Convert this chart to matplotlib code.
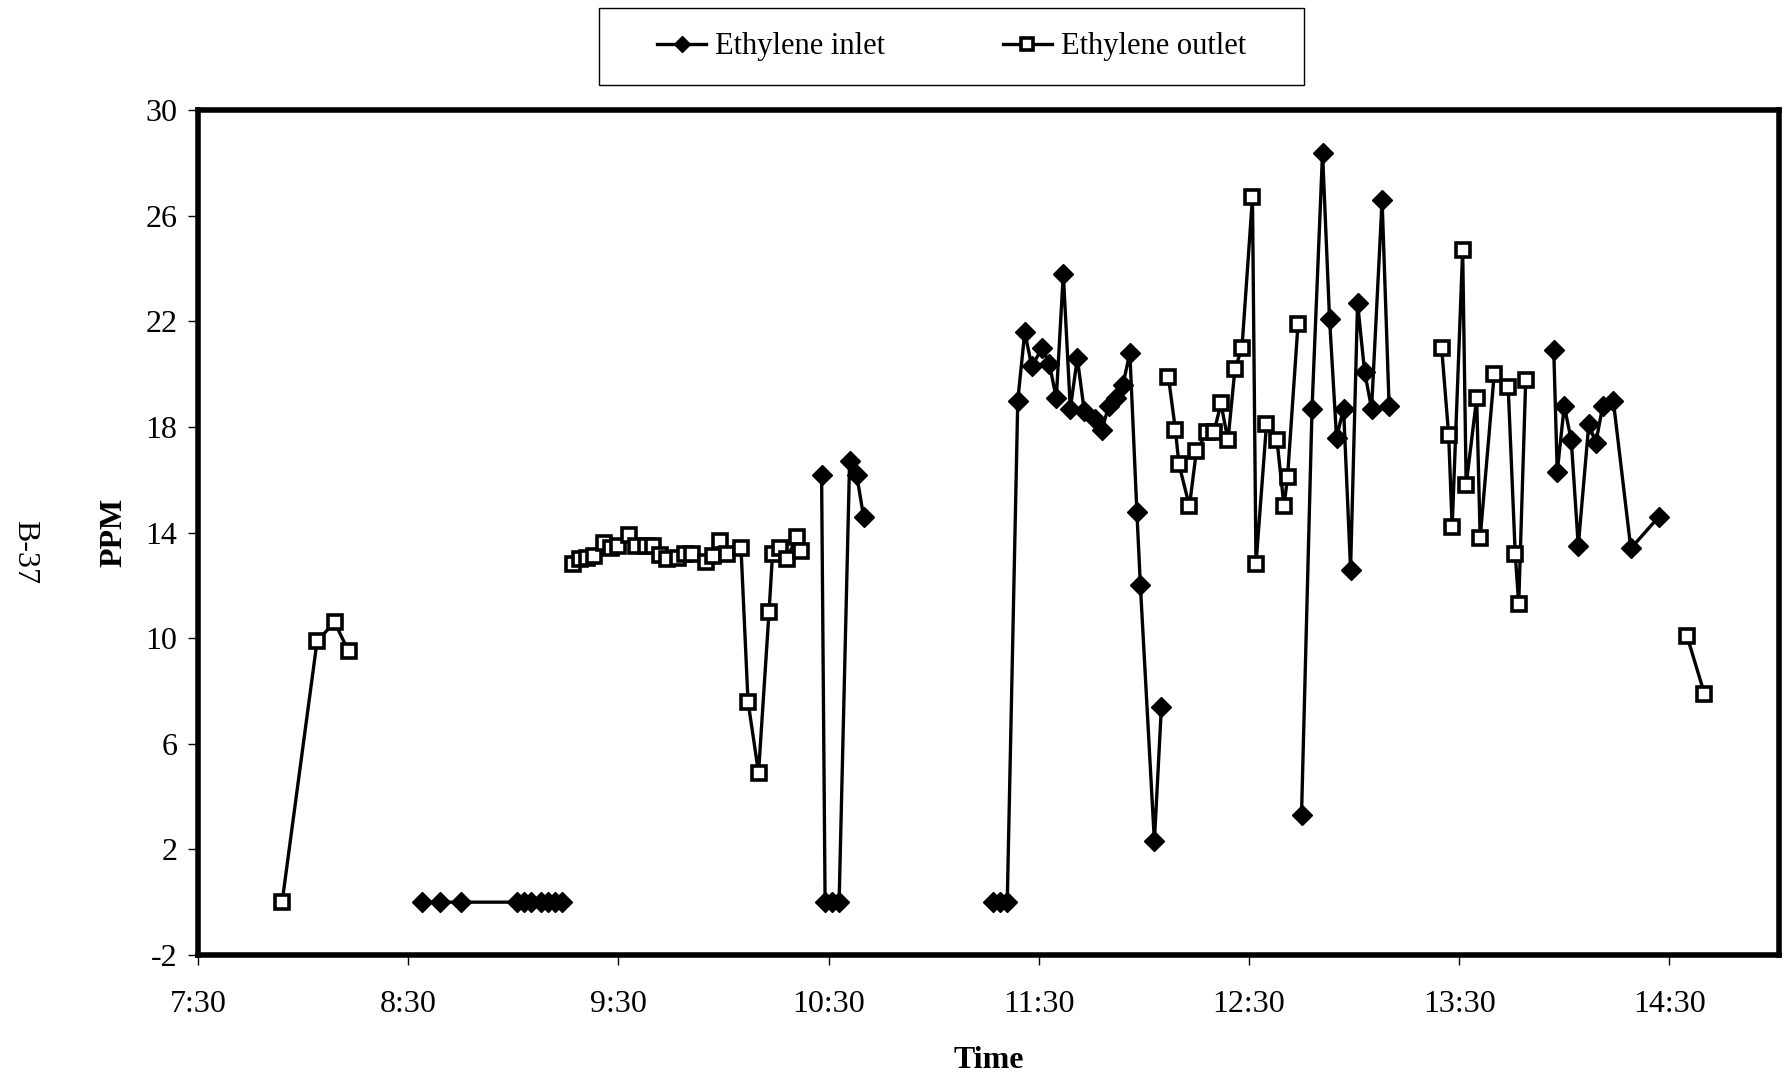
import numpy as np
import matplotlib
matplotlib.use("Agg")
import matplotlib.pyplot as plt
import matplotlib.ticker as ticker
from matplotlib.patches import Rectangle

plt.rcParams['font.family'] = ['Liberation Serif', 'DejaVu Serif']
plt.rcParams['axes.unicode_minus'] = False

# readings; None marks a gap in the record
inlet_time = ['8:34', '8:39', '8:45', '9:01', '9:03', '9:05', '9:08', '9:10', '9:12', '9:14',
              None,
              '10:28', '10:29', '10:31', '10:33', '10:36', '10:38', '10:40',
              None,
              '11:17', '11:19', '11:21', '11:24', '11:26', '11:28', '11:31', '11:33', '11:35',
              '11:37', '11:39', '11:41', '11:43', '11:46', '11:48', '11:50', '11:52', '11:54',
              '11:56', '11:58', '11:59', '12:03', '12:05',
              None,
              '12:45', '12:48', '12:51', '12:53', '12:55', '12:57', '12:59', '13:01', '13:03',
              '13:05', '13:08', '13:10',
              None,
              '13:57', '13:58', '14:00', '14:02', '14:04', '14:07', '14:09', '14:11', '14:14',
              '14:19', '14:27']
inlet_ppm = [0, 0, 0, 0, 0, 0, 0, 0, 0, 0,
             None,
             16.2, 0, 0, 0, 16.7, 16.2, 14.6,
             None,
             0, 0, 0, 19.0, 21.6, 20.3, 21.0, 20.4, 19.1,
             23.8, 18.7, 20.6, 18.6, 18.3, 17.9, 18.8, 19.1, 19.6,
             20.8, 14.8, 12.0, 2.3, 7.4,
             None,
             3.3, 18.7, 28.4, 22.1, 17.6, 18.7, 12.6, 22.7, 20.1,
             18.7, 26.6, 18.8,
             None,
             20.9, 16.3, 18.8, 17.5, 13.5, 18.1, 17.4, 18.8, 19.0,
             13.4, 14.6]

outlet_time = ['7:54', '8:04', '8:09', '8:13',
               None,
               '9:17', '9:19', '9:21', '9:23', '9:26', '9:28', '9:30', '9:33', '9:35', '9:38',
               '9:40', '9:42', '9:44', '9:47', '9:49', '9:51', '9:55', '9:57', '9:59', '10:01',
               '10:05', '10:07', '10:10', '10:13', '10:14', '10:16', '10:18', '10:21', '10:22',
               None,
               '12:07', '12:09', '12:10', '12:13', '12:15', '12:18', '12:20', '12:22', '12:24',
               '12:26', '12:28', '12:31', '12:32', '12:35', '12:38', '12:40', '12:41', '12:44',
               None,
               '13:25', '13:27', '13:28', '13:31', '13:32', '13:35', '13:36', '13:40', '13:44',
               '13:46', '13:47', '13:49',
               None,
               '14:35', '14:40']
outlet_ppm = [0, 9.9, 10.6, 9.5,
              None,
              12.8, 13.0, 13.05, 13.1, 13.6, 13.4, 13.5, 13.9, 13.5, 13.5,
              13.5, 13.15, 13.0, 13.05, 13.2, 13.2, 12.9, 13.1, 13.7, 13.2,
              13.4, 7.6, 4.9, 11.0, 13.2, 13.4, 13.0, 13.85, 13.3,
              None,
              19.9, 17.9, 16.6, 15.0, 17.1, 17.8, 17.8, 18.9, 17.5,
              20.2, 21.0, 26.7, 12.8, 18.1, 17.5, 15.0, 16.1, 21.9,
              None,
              21.0, 17.7, 14.2, 24.7, 15.8, 19.1, 13.8, 20.0, 19.5,
              13.2, 11.3, 19.8,
              None,
              10.1, 7.9]

hour_ticks = [7.5, 8.5, 9.5, 10.5, 11.5, 12.5, 13.5, 14.5]


def to_hours(t):
    if t is None:
        return np.nan
    h, m = t.split(':')
    return int(h) + int(m) / 60.0


def hm(x, pos):
    h = int(x)
    m = int(round((x - h) * 60))
    return f'{h}:{m:02d}'


x_in = np.array([to_hours(t) for t in inlet_time])
y_in = np.array([np.nan if v is None else v for v in inlet_ppm])
x_out = np.array([to_hours(t) for t in outlet_time])
y_out = np.array([np.nan if v is None else v for v in outlet_ppm])

fig = plt.figure(figsize=(17.84, 10.76), dpi=100)
ax = fig.add_axes([0.111, 0.1125, 0.886, 0.785])

l1, = ax.plot(x_in, y_in, color='black', lw=2.4, marker='D', ms=10,
              mfc='black', mec='black', label='Ethylene inlet')
l2, = ax.plot(x_out, y_out, color='black', lw=2.4, marker='s', ms=10,
              mfc='white', mec='black', mew=2.6, label='Ethylene outlet')

ax.set_xlim(7.5, 15.02)
ax.set_ylim(-2, 30)
ax.set_xticks(hour_ticks)
ax.xaxis.set_major_formatter(ticker.FuncFormatter(hm))
ax.set_yticks(np.arange(-2, 31, 4))

for s in ax.spines.values():
    s.set_linewidth(4)
ax.tick_params(axis='both', labelsize=23, length=7, width=1, direction='out',
               top=False, right=False)
ax.tick_params(axis='x', pad=18)
ax.tick_params(axis='y', pad=8)

ax.set_xlabel('Time', fontsize=23, fontweight='bold', labelpad=20)
ax.set_ylabel('PPM', fontsize=23, fontweight='bold', labelpad=12)
fig.text(0.014, 0.487, 'B-37', rotation=-90, fontsize=23, va='center', ha='center')

# legend without its own frame; a wider box is drawn round it below
leg = fig.legend(handles=[l1, l2], loc='center', bbox_to_anchor=(0.5335, 0.9566),
                 borderaxespad=0, ncol=2, fontsize=22, frameon=False,
                 handlelength=1.6, handletextpad=0.3, columnspacing=3.85,
                 borderpad=0, markerscale=0.8)

fig.canvas.draw()
bb = leg.get_window_extent().transformed(fig.transFigure.inverted())
pad_x = 58 / 1784
pad_y = 24 / 1076
fig.patches.append(Rectangle((bb.x0 - pad_x, bb.y0 - pad_y), bb.width + 2 * pad_x,
                             bb.height + 2 * pad_y, transform=fig.transFigure,
                             fill=False, edgecolor='black', linewidth=1.0))

fig.savefig('out.png', dpi=100)
